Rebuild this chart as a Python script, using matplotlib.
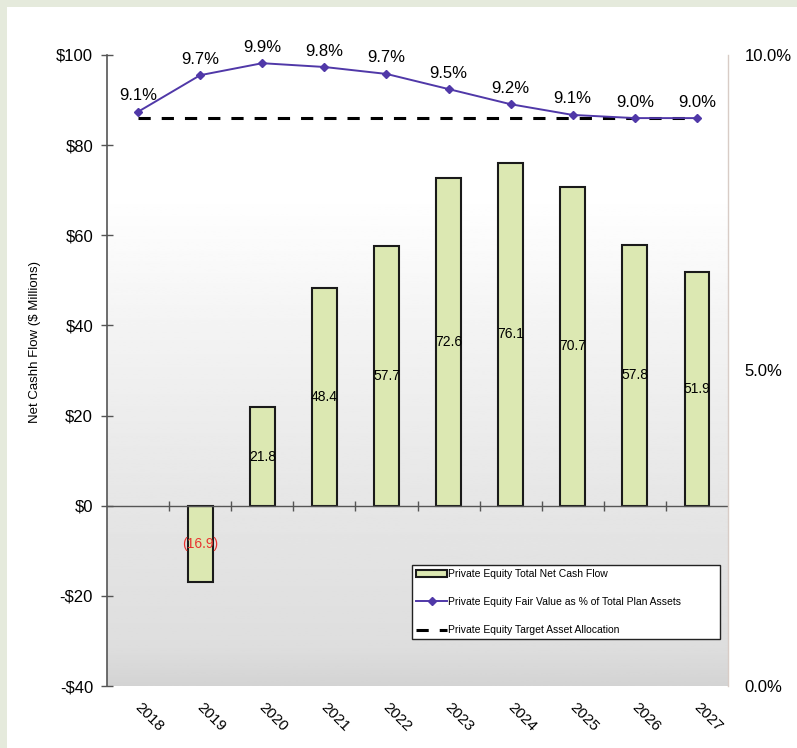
import numpy as np
import matplotlib
matplotlib.use('Agg')
import matplotlib.pyplot as plt
import matplotlib.patches as patches
from matplotlib.transforms import ScaledTranslation

plt.rcParams['font.family'] = ['Liberation Sans', 'DejaVu Sans']

years = ['2018', '2019', '2020', '2021', '2022', '2023', '2024', '2025', '2026', '2027']
net_cash_flow = [0.0, -16.9, 21.8, 48.4, 57.7, 72.6, 76.1, 70.7, 57.8, 51.9]
fair_value_pct = [9.1, 9.68, 9.87, 9.81, 9.7, 9.46, 9.22, 9.05, 9.0, 9.0]
fair_value_labels = ['9.1%', '9.7%', '9.9%', '9.8%', '9.7%', '9.5%', '9.2%', '9.1%', '9.0%', '9.0%']
target_pct = 9.0

left_ticks = [-40, -20, 0, 20, 40, 60, 80, 100]
right_ticks = [0, 5, 10]

bar_color = '#dce8b2'
line_color = '#5038a8'

fig = plt.figure(figsize=(7.97, 7.48), dpi=100, facecolor='white')

# light green frame strips (top and left)
fig.add_artist(patches.Rectangle((0, 1 - 7/748.), 1, 7/748., transform=fig.transFigure,
                                 facecolor='#e5eadc', edgecolor='none'))
fig.add_artist(patches.Rectangle((0, 0), 7/797., 1, transform=fig.transFigure,
                                 facecolor='#e5eadc', edgecolor='none'))

ax = fig.add_axes([107/797., 1 - 686/748., 621/797., 631/748.])
x = np.arange(len(years))

# background gradient: white at top, grey towards the bottom
t = np.linspace(0, 1, 256)
shade = np.interp(t, [0, 0.06, 0.28, 0.55, 0.78, 1.0], [0.83, 0.87, 0.9, 0.95, 1.0, 1.0])
ax.imshow(shade[::-1, None], extent=(-0.5, len(years) - 0.5, -40, 100), aspect='auto',
          cmap='gray', vmin=0, vmax=1, zorder=0)

# no bar drawn where the flow is zero
nz = [i for i, v in enumerate(net_cash_flow) if v != 0]
bars = ax.bar(x[nz], [net_cash_flow[i] for i in nz], width=0.4, color=bar_color,
              edgecolor='#1a1a1a', lw=1.5, zorder=2, label='Private Equity Total Net Cash Flow')
for i in nz:
    v = net_cash_flow[i]
    if v < 0:
        ax.text(x[i], v/2., '(%.1f)' % abs(v), ha='center', va='center', fontsize=10,
                color='#e8332f', zorder=4)
    else:
        ax.text(x[i], v/2., '%.1f' % v, ha='center', va='center', fontsize=10, zorder=4)

ax.axhline(0, color='#555555', lw=1.0, zorder=3)

ax.set_xlim(-0.5, len(years) - 0.5)
ax.set_ylim(-40, 100)
ax.set_yticks(left_ticks)
ax.set_yticklabels([('-$%d' % -v) if v < 0 else ('$%d' % v) for v in left_ticks], fontsize=12)
ax.tick_params(axis='y', direction='inout', length=8, width=1, color='#555555', pad=6)
ax.set_xticks(x)
ax.set_xticklabels(years, fontsize=11, rotation=-45, ha='left', va='top')
ax.tick_params(axis='x', length=0, pad=10)
for lab in ax.get_xticklabels():
    lab.set_transform(lab.get_transform() + ScaledTranslation(-6/100., 0, fig.dpi_scale_trans))

for s in ['top', 'right', 'bottom']:
    ax.spines[s].set_visible(False)
ax.spines['left'].set_color('#555555')
ax.spines['left'].set_linewidth(1.2)

# category boundary ticks on the zero line
sec = ax.secondary_xaxis(40/140.)
sec.set_xticks(x[:-1] + 0.5)
sec.set_xticklabels([])
sec.tick_params(axis='x', direction='inout', length=7, width=1, color='#555555')
sec.spines['bottom'].set_visible(False)
sec.spines['top'].set_visible(False)

fig.text(35/797., 1 - 342/748., 'Net Cashh Flow ($ Millions)', rotation=90,
         ha='center', va='center', fontsize=9.5)

# right axis: percentages
ax2 = ax.twinx()
ax2.set_ylim(0, 10)
ax2.set_yticks(right_ticks)
ax2.set_yticklabels(['%.1f%%' % v for v in right_ticks], fontsize=12)
ax2.tick_params(axis='y', length=0, pad=12)
for s in ['top', 'left', 'bottom']:
    ax2.spines[s].set_visible(False)
ax2.spines['right'].set_color('#d8ccc6')
ax2.spines['right'].set_linewidth(1)

ax2.plot(x, [target_pct] * len(x), color='black', lw=2.2, dashes=(4, 3.6), zorder=3,
         label='Private Equity Target Asset Allocation')
ax2.plot(x, fair_value_pct, color=line_color, lw=1.4, marker='D', ms=4, zorder=4,
         label='Private Equity Fair Value as % of Total Plan Assets')
for xi, v, lab in zip(x, fair_value_pct, fair_value_labels):
    ax2.annotate(lab, (xi, v), xytext=(0, 11.5), textcoords='offset points',
                 ha='center', va='center', fontsize=12)

h1, l1 = ax.get_legend_handles_labels()
h2, l2 = ax2.get_legend_handles_labels()
leg = ax2.legend([h1[0], h2[1], h2[0]], [l1[0], l2[1], l2[0]],
                 bbox_to_anchor=(0.491, 0.062, 0.496, 0.142), loc='center', mode='expand',
                 borderaxespad=0, fontsize=7.5, handlelength=3.0, handletextpad=0.1,
                 labelspacing=1.75, fancybox=False, framealpha=1, edgecolor='#222222')
leg.get_frame().set_linewidth(1.0)

fig.savefig('out.png', dpi=100, facecolor=fig.get_facecolor())
